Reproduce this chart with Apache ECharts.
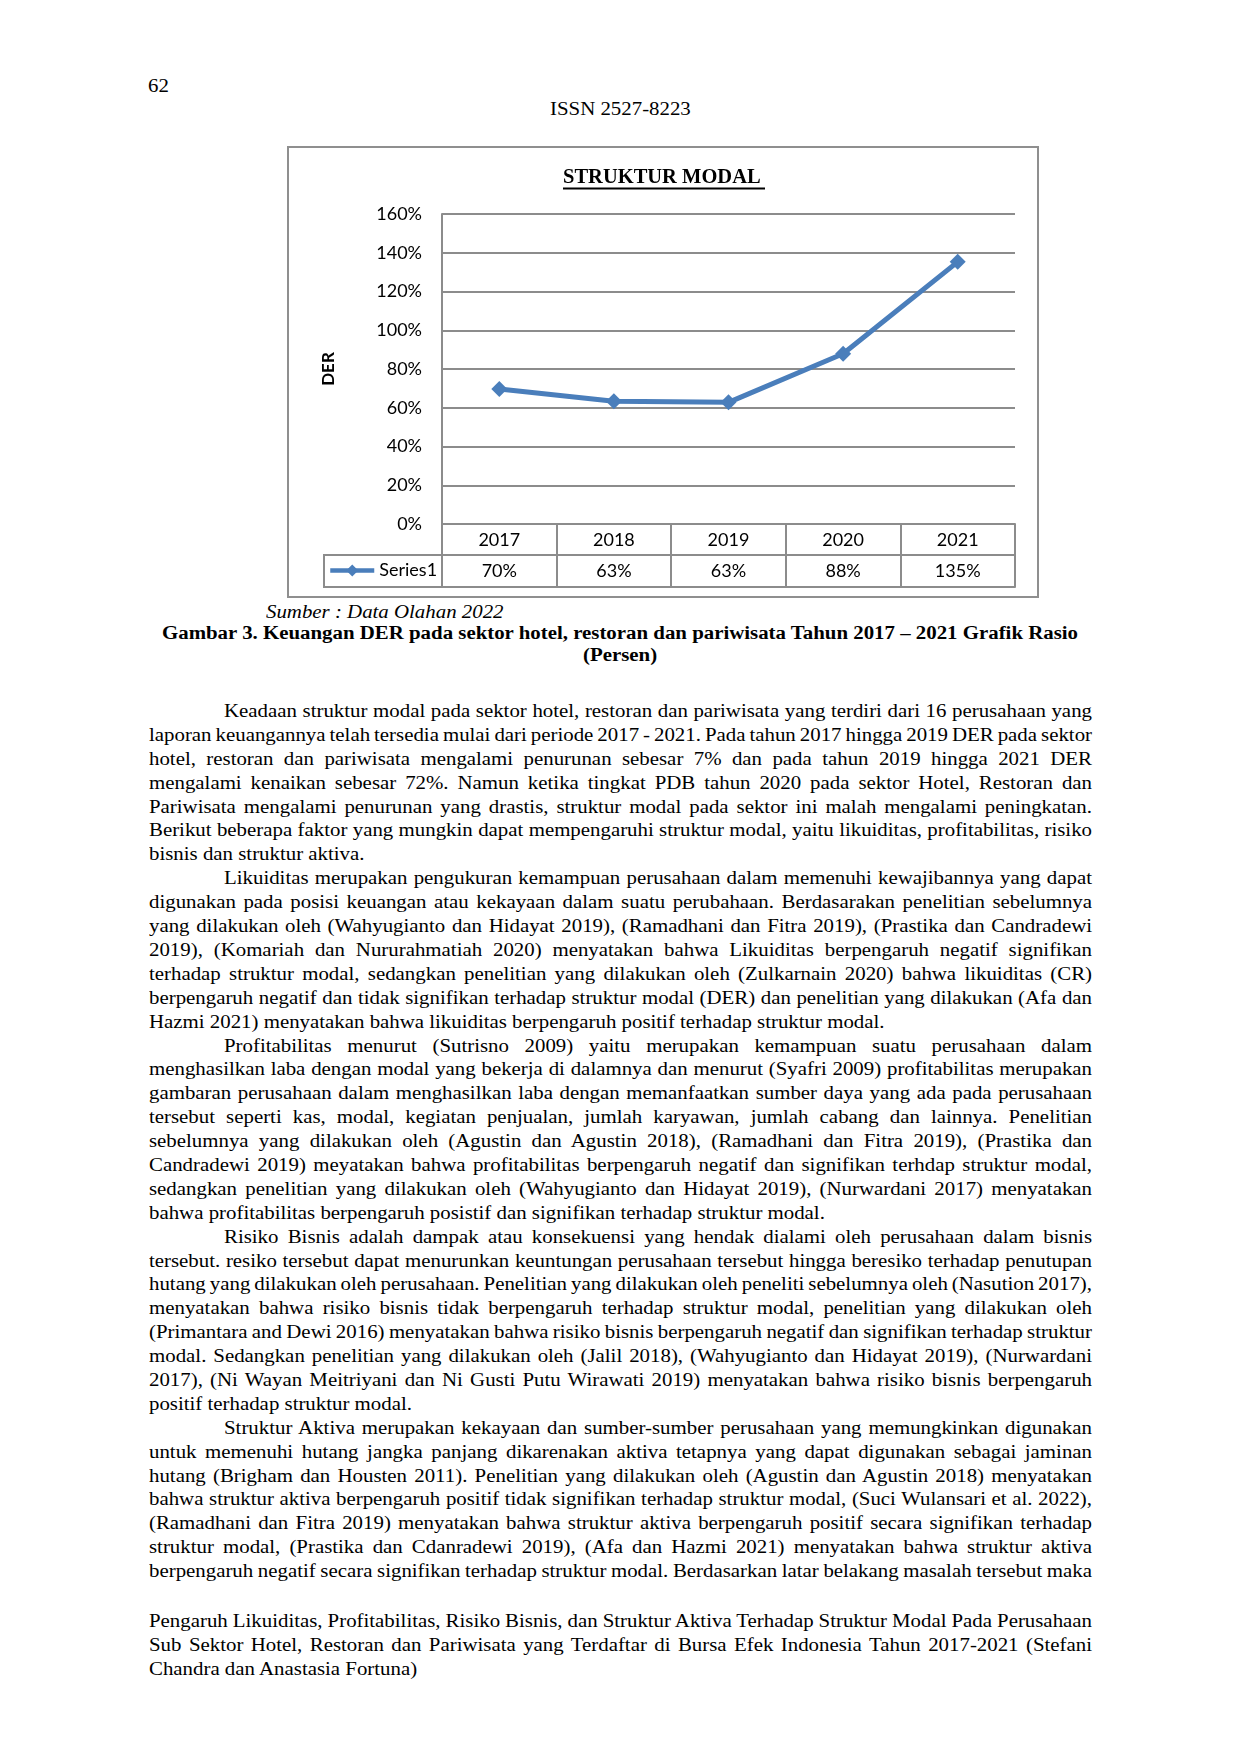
<!DOCTYPE html>
<html><head><meta charset="utf-8">
<script src="https://cdn.jsdelivr.net/npm/echarts/dist/echarts.min.js"></script>
<style>
html,body{margin:0;padding:0;background:#fff;}
body{width:1240px;height:1754px;position:relative;overflow:hidden;font-family:'Liberation Serif','Times New Roman',serif;color:#000;}
.t{position:absolute;white-space:nowrap;transform-origin:0 0;}
.ln{position:absolute;white-space:nowrap;height:23.89px;line-height:23.89px;font-size:18.7px;transform-origin:0 0;}
#box{position:absolute;left:287px;top:146px;width:752px;height:452px;border:2px solid #8f8f8f;box-sizing:border-box;}
#chart{position:absolute;left:288px;top:147px;width:750px;height:450px;}
</style></head><body>
<div id="box"></div>
<div id="chart"></div>
<script>
// ---- chart data ----
const years = ['2017', '2018', '2019', '2020', '2021'];
const der = [0.697, 0.634, 0.628, 0.879, 1.353];
const seriesName = 'Series1';
const chartTitle = 'STRUKTUR MODAL';
const yName = 'DER';
const yMin = 0, yMax = 1.6, yStep = 0.2;

// ---- page texts ----
const pageNumber = '62';
const issn = 'ISSN 2527-8223';
const source = 'Sumber : Data Olahan 2022';
const caption1 = 'Gambar 3. Keuangan DER pada sektor hotel, restoran dan pariwisata Tahun 2017 \u2013 2021 Grafik Rasio';
const caption2 = '(Persen)';
const paras = [
 ['Keadaan struktur modal pada sektor hotel, restoran dan pariwisata yang terdiri dari 16 perusahaan yang',
  'laporan keuangannya telah tersedia mulai dari periode 2017 - 2021. Pada tahun 2017 hingga 2019 DER pada sektor',
  'hotel, restoran dan pariwisata mengalami penurunan sebesar 7% dan pada tahun 2019 hingga 2021 DER',
  'mengalami kenaikan sebesar 72%. Namun ketika tingkat PDB tahun 2020 pada sektor Hotel, Restoran dan',
  'Pariwisata mengalami penurunan yang drastis, struktur modal pada sektor ini malah mengalami peningkatan.',
  'Berikut beberapa faktor yang mungkin dapat mempengaruhi struktur modal, yaitu likuiditas, profitabilitas, risiko',
  'bisnis dan struktur aktiva.'],
 ['Likuiditas merupakan pengukuran kemampuan perusahaan dalam memenuhi kewajibannya yang dapat',
  'digunakan pada posisi keuangan atau kekayaan dalam suatu perubahaan. Berdasarakan penelitian sebelumnya',
  'yang dilakukan oleh (Wahyugianto dan Hidayat 2019), (Ramadhani dan Fitra 2019), (Prastika dan Candradewi',
  '2019), (Komariah dan Nururahmatiah 2020) menyatakan bahwa Likuiditas berpengaruh negatif signifikan',
  'terhadap struktur modal, sedangkan penelitian yang dilakukan oleh (Zulkarnain 2020) bahwa likuiditas (CR)',
  'berpengaruh negatif dan tidak signifikan terhadap struktur modal (DER) dan penelitian yang dilakukan (Afa dan',
  'Hazmi 2021) menyatakan bahwa likuiditas berpengaruh positif terhadap struktur modal.'],
 ['Profitabilitas menurut (Sutrisno 2009) yaitu merupakan kemampuan suatu perusahaan dalam',
  'menghasilkan laba dengan modal yang bekerja di dalamnya dan menurut (Syafri 2009) profitabilitas merupakan',
  'gambaran perusahaan dalam menghasilkan laba dengan memanfaatkan sumber daya yang ada pada perusahaan',
  'tersebut seperti kas, modal, kegiatan penjualan, jumlah karyawan, jumlah cabang dan lainnya. Penelitian',
  'sebelumnya yang dilakukan oleh (Agustin dan Agustin 2018), (Ramadhani dan Fitra 2019), (Prastika dan',
  'Candradewi 2019) meyatakan bahwa profitabilitas berpengaruh negatif dan signifikan terhdap struktur modal,',
  'sedangkan penelitian yang dilakukan oleh (Wahyugianto dan Hidayat 2019), (Nurwardani 2017) menyatakan',
  'bahwa profitabilitas berpengaruh posistif dan signifikan terhadap struktur modal.'],
 ['Risiko Bisnis adalah dampak atau konsekuensi yang hendak dialami oleh perusahaan dalam bisnis',
  'tersebut. resiko tersebut dapat menurunkan keuntungan perusahaan tersebut hingga beresiko terhadap penutupan',
  'hutang yang dilakukan oleh perusahaan. Penelitian yang dilakukan oleh peneliti sebelumnya oleh (Nasution 2017),',
  'menyatakan bahwa risiko bisnis tidak berpengaruh terhadap struktur modal, penelitian yang dilakukan oleh',
  '(Primantara and Dewi 2016) menyatakan bahwa risiko bisnis berpengaruh negatif dan signifikan terhadap struktur',
  'modal. Sedangkan penelitian yang dilakukan oleh (Jalil 2018), (Wahyugianto dan Hidayat 2019), (Nurwardani',
  '2017), (Ni Wayan Meitriyani dan Ni Gusti Putu Wirawati 2019) menyatakan bahwa risiko bisnis berpengaruh',
  'positif terhadap struktur modal.'],
 ['Struktur Aktiva merupakan kekayaan dan sumber-sumber perusahaan yang memungkinkan digunakan',
  'untuk memenuhi hutang jangka panjang dikarenakan aktiva tetapnya yang dapat digunakan sebagai jaminan',
  'hutang (Brigham dan Housten 2011). Penelitian yang dilakukan oleh (Agustin dan Agustin 2018) menyatakan',
  'bahwa struktur aktiva berpengaruh positif tidak signifikan terhadap struktur modal, (Suci Wulansari et al. 2022),',
  '(Ramadhani dan Fitra 2019) menyatakan bahwa struktur aktiva berpengaruh positif secara signifikan terhadap',
  'struktur modal, (Prastika dan Cdanradewi 2019), (Afa dan Hazmi 2021) menyatakan bahwa struktur aktiva',
  'berpengaruh negatif secara signifikan terhadap struktur modal. Berdasarkan latar belakang masalah tersebut maka']
];
const footer = [
  'Pengaruh Likuiditas, Profitabilitas, Risiko Bisnis, dan Struktur Aktiva Terhadap Struktur Modal Pada Perusahaan',
  'Sub Sektor Hotel, Restoran dan Pariwisata yang Terdaftar di Bursa Efek Indonesia Tahun 2017-2021 (Stefani',
  'Chandra dan Anastasia Fortuna)'
];

// ---- page text layout ----
const F = 18.7, LH = 23.89, X0 = 149, X1 = 1092, IND = 75, SX = 1.116;
function fit(span, w) {
  span.style.wordSpacing = '0px';
  const nat = span.getBoundingClientRect().width;
  const n = (span.textContent.match(/ /g) || []).length;
  if (n) span.style.wordSpacing = ((w - nat) / n / SX) + 'px';
}
function put(text, opts) {
  const d = document.createElement('div');
  d.className = 't';
  const fs = opts.fs || F;
  d.style.fontSize = fs + 'px';
  d.style.lineHeight = fs + 'px';
  d.style.transform = 'scaleX(' + SX + ')';
  if (opts.bold) d.style.fontWeight = 'bold';
  if (opts.italic) d.style.fontStyle = 'italic';
  d.textContent = text;
  document.body.appendChild(d);
  d.style.top = (opts.base - 0.8375 * fs) + 'px';
  if (opts.cx !== undefined) {
    const w = d.getBoundingClientRect().width;
    d.style.left = (opts.cx - w / 2) + 'px';
  } else d.style.left = opts.x + 'px';
  return d;
}
function textLine(t, x, y, justifyW) {
  const d = document.createElement('div');
  d.className = 'ln';
  d.style.left = x + 'px';
  d.style.top = y + 'px';
  d.style.transform = 'scaleX(' + SX + ')';
  const s = document.createElement('span');
  s.textContent = t;
  d.appendChild(s);
  document.body.appendChild(d);
  if (justifyW) fit(s, justifyW);
}

put(pageNumber, {x: 148, base: 92.7, fs: 18.7});
put(issn, {cx: 620, base: 115.5});
put(source, {x: 266, base: 619, italic: true});
const probe = put(caption1, {x: 0, base: 640, bold: true, fs: 20});
const capFs = 20 * (916.6 / probe.getBoundingClientRect().width);
probe.remove();
put(caption1, {cx: 620, base: 640, bold: true, fs: capFs});
put(caption2, {cx: 620, base: 662, bold: true, fs: capFs});

let lineY = 717.3 - 18.26;
paras.forEach((p, pi) => {
  p.forEach((t, li) => {
    const x = X0 + (li === 0 ? IND : 0);
    const justify = li < p.length - 1 || pi === paras.length - 1;
    textLine(t, x, lineY, justify ? X1 - x : 0);
    lineY += LH;
  });
});
let footY = 1627.3 - 18.26;
footer.forEach((t, i) => {
  textLine(t, X0, footY, i < footer.length - 1 ? X1 - X0 : 0);
  footY += LH;
});

// ---- chart ----
const pct = v => Math.round(v * 100) + '%';
const grey = {color: '#8c8c8c', width: 2};
const lblFont = {fontFamily: 'Lato', fontSize: 18, color: '#000'};
const blue = '#4A7EBB';
const chart = echarts.init(document.getElementById('chart'));
chart.setOption({
  animation: false,
  backgroundColor: 'transparent',
  title: {
    text: chartTitle, left: 275, top: 20, padding: 0,
    textStyle: {fontFamily: 'Liberation Serif', fontWeight: 'bold', fontSize: 20.5, color: '#000'}
  },
  grid: {left: 154, top: 67, width: 573, height: 310, containLabel: false, outerBoundsMode: 'none'},
  legend: {
    data: [seriesName], left: 40, top: 414.5, padding: 0, itemWidth: 44, itemHeight: 15,
    textStyle: lblFont, selectedMode: false,
    lineStyle: {width: 4.5, color: blue}, itemStyle: {color: blue}
  },
  xAxis: [
    {type: 'category', data: years, position: 'bottom', boundaryGap: true,
     axisLine: {show: true, lineStyle: grey},
     axisTick: {show: true, interval: 0, length: 63, lineStyle: grey},
     axisLabel: Object.assign({margin: 7, interval: 0}, lblFont),
     splitLine: {show: false}},
    {type: 'category', data: years, position: 'bottom', offset: 31, boundaryGap: true,
     axisLine: {show: true, lineStyle: grey}, axisTick: {show: false},
     axisLabel: Object.assign({margin: 7, interval: 0, formatter: (v, i) => pct(der[i])}, lblFont),
     splitLine: {show: false}},
    {type: 'category', data: years, position: 'bottom', offset: 63, boundaryGap: true,
     axisLine: {show: true, lineStyle: grey}, axisTick: {show: false},
     axisLabel: {show: false}, splitLine: {show: false}}
  ],
  yAxis: {
    type: 'value', min: yMin, max: yMax, interval: yStep,
    axisLine: {show: true, lineStyle: grey}, axisTick: {show: false},
    splitLine: {show: true, lineStyle: grey},
    axisLabel: Object.assign({margin: 20, formatter: v => pct(v)}, lblFont),
    name: yName, nameLocation: 'middle', nameRotate: 90, nameGap: 105,
    nameTextStyle: {fontFamily: 'Lato', fontWeight: 'bold', fontSize: 17, color: '#000'}
  },
  graphic: [
    {type: 'rect', silent: true, shape: {x: 36, y: 408, width: 118, height: 32},
     style: {fill: 'none', stroke: '#8c8c8c', lineWidth: 2}},
    {type: 'line', silent: true, shape: {x1: 275, y1: 41.5, x2: 477, y2: 41.5},
     style: {stroke: '#000', lineWidth: 2}}
  ],
  series: [{
    type: 'line', name: seriesName, data: der, xAxisIndex: 0,
    symbol: 'diamond', symbolSize: 16, showSymbol: true,
    lineStyle: {width: 5, color: blue}, itemStyle: {color: blue}, z: 5
  }]
});
</script>
</body></html>
